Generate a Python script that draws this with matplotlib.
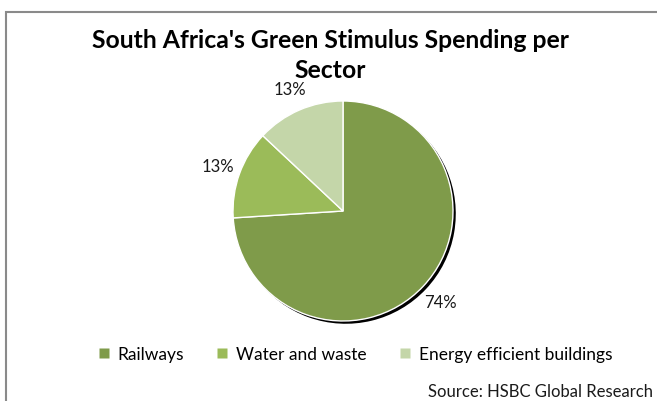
import matplotlib.pyplot as plt
from matplotlib.patches import Rectangle, Wedge
from matplotlib.lines import Line2D
from matplotlib.transforms import ScaledTranslation

plt.rcParams['font.family'] = ['Lato', 'DejaVu Sans']

# Доли расходов по секторам, %
sectors = ['Railways', 'Water and waste', 'Energy efficient buildings']
shares = [74, 13, 13]
colors = ['#7F9B4A', '#9BBB59', '#C4D6A9']

W, H = 657, 402
fig = plt.figure(figsize=(W / 100, H / 100), dpi=100)

# Серая рамка области диаграммы (справа и снизу уходит за край)
fig.patches.append(Rectangle((6 / W, -0.1), 1.2, 1 - 13 / H + 0.1,
                             transform=fig.transFigure, fill=False,
                             edgecolor='#8a8a8a', linewidth=1.5))

# Круговая диаграмма: центр (343, 212) от верхнего края, радиус 110 px
r = 110
half = 1.25 * r
ax = fig.add_axes([(343 - half) / W, (H - 212 - half) / H, 2 * half / W, 2 * half / H])
wedges, texts, autotexts = ax.pie(
    shares, colors=colors, startangle=90, counterclock=False,
    autopct='%.0f%%', pctdistance=1.21,
    wedgeprops={'edgecolor': 'white', 'linewidth': 1, 'zorder': 2},
    textprops={'fontsize': 12, 'color': '#1a1a1a'})
ax.set_xlim(-1.25, 1.25)
ax.set_ylim(-1.25, 1.25)

# Тень: чёрные копии секторов со смещением вправо-вниз
offset = ScaledTranslation(2 / 72, -2 / 72, fig.dpi_scale_trans)
for w in wedges:
    sh = Wedge(w.center, w.r, w.theta1, w.theta2, facecolor='black',
               edgecolor='none', zorder=1, transform=ax.transData + offset)
    ax.add_patch(sh)

fig.text(330 / W, 1 - 29 / H, "South Africa's Green Stimulus Spending per\nSector",
         ha='center', va='top', fontsize=17.8, fontweight='bold', linespacing=1.35)

handles = [Line2D([], [], linestyle='none', marker='s', markersize=6.5,
                  markerfacecolor=c, markeredgecolor='none') for c in colors]
fig.legend(handles, sectors, loc='center', bbox_to_anchor=(355 / W, 47 / H),
           ncol=3, frameon=False, fontsize=12.5, handlelength=0.7,
           handletextpad=0.45, columnspacing=1.85)

fig.text(428 / W, 1 - 397 / H, 'Source: HSBC Global Research', ha='left',
         va='baseline', fontsize=12, color='#1a1a1a')

fig.savefig('out.png', dpi=100)
